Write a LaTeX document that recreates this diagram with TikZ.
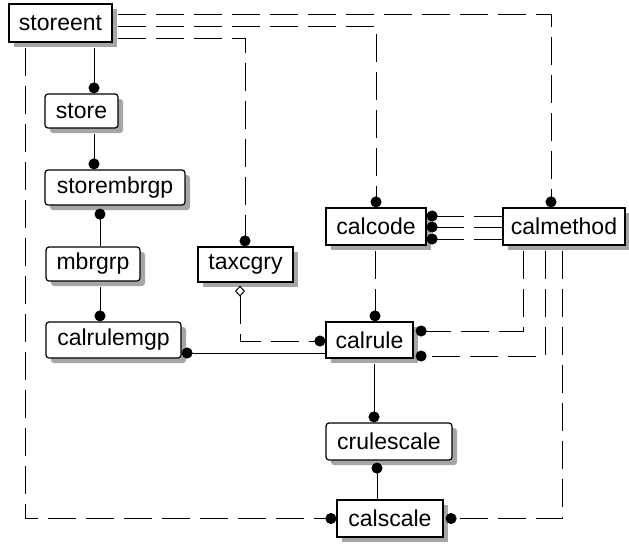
\documentclass[tikz,border=0pt]{standalone}
\usepackage{fontspec}
\setmainfont{Liberation Sans}
\usetikzlibrary{arrows.meta,shadows}
\tikzset{
ent/.style={draw,fill=white,line width=1.2pt,minimum width=#1,minimum height=36pt,inner sep=0pt,font=\fontsize{23}{26}\selectfont,drop shadow={shadow xshift=5pt,shadow yshift=-5pt,fill=black!35,opacity=1}},
dep/.style={ent=#1,rounded corners=3pt},
rel/.style={line width=1pt,-{Circle[length=11pt]}},
nrel/.style={rel,dash pattern=on 28pt off 10pt}
}
\begin{document}
\begin{tikzpicture}[x=1pt,y=-1pt]
\useasboundingbox (0,0) rectangle (629,544);
\node[ent=103pt,minimum height=38pt] (storeent) at (60.5,23) {storeent};
\node[dep=73pt,minimum height=34pt] (store) at (81.5,111) {store};
\node[dep=140pt,minimum height=35pt] (storembrgp) at (115,187.5) {storembrgp};
\node[dep=94pt,minimum height=34pt] (mbrgrp) at (93,264) {mbrgrp};
\node[ent=95pt,minimum height=35pt] (taxcgry) at (245.5,264.5) {taxcgry};
\node[dep=135pt] (calrulemgp) at (113.5,340) {calrulemgp};
\node[ent=100pt,minimum height=37pt] (calcode) at (376,226.5) {calcode};
\node[ent=122pt,minimum height=37pt] (calmethod) at (564,226.5) {calmethod};
\node[ent=87pt] (calrule) at (369.5,340) {calrule};
\node[dep=126pt,minimum height=37pt] (crulescale) at (389,441.5) {crulescale};
\node[ent=106pt,minimum height=37pt] (calscale) at (390,518.5) {calscale};
\draw[rel,shorten <=5pt] (storeent.south -| 94,0) -- (store.north -| 94,0);
\draw[rel,shorten <=5pt] (store.south -| 94,0) -- (storembrgp.north -| 94,0);
\draw[rel,shorten >=3pt] (mbrgrp.north -| 100,0) -- (storembrgp.south -| 100,0);
\draw[rel,shorten <=5pt] (mbrgrp.south -| 100,0) -- (calrulemgp.north -| 100,0);
\draw[rel] (calrule.west |- 0,353) -- (calrulemgp.east |- 0,353);
\draw[nrel,{Diamond[open,length=11pt,width=10pt]}-{Circle[length=11pt]},shorten <=3pt] (taxcgry.south -| 240,0) |- (calrule.west |- 0,341);
\draw[nrel,shorten <=5pt] (storeent.east |- 0,38) -| (taxcgry.north -| 245,0);
\draw[nrel,shorten <=5pt] (storeent.east |- 0,26) -| (calcode.north);
\draw[nrel,shorten <=5pt] (storeent.east |- 0,14) -| (calmethod.north -| 551,0);
\draw[nrel,shorten <=5pt] (storeent.south -| 25,0) |- (calscale.west);
\foreach \y in {216,227,239}
\draw[nrel] (calmethod.west |- 0,\y) -- (calcode.east |- 0,\y);
\draw[nrel,shorten <=5pt,shorten >=2pt] (calmethod.south -| 523,0) |- (calrule.east |- 0,331);
\draw[nrel,shorten <=5pt,shorten >=2pt] (calmethod.south -| 545,0) |- (calrule.east |- 0,356);
\draw[nrel,shorten <=5pt,shorten >=2pt] (calmethod.south -| 562,0) |- (calscale.east);
\draw[nrel,shorten <=5pt] (calcode.south -| 375,0) -- (calrule.north -| 375,0);
\draw[rel,shorten <=5pt] (calrule.south -| 374,0) -- (crulescale.north -| 374,0);
\draw[rel,shorten >=2pt] (calscale.north -| 377,0) -- (crulescale.south -| 377,0);
\end{tikzpicture}
\end{document}
